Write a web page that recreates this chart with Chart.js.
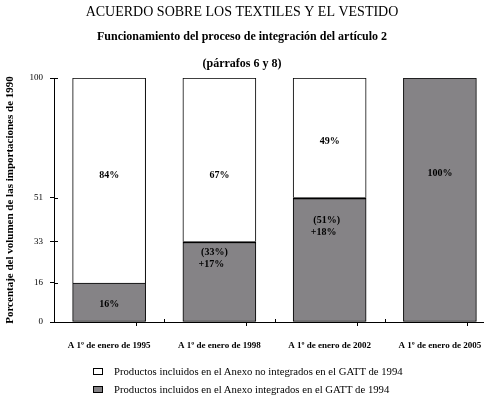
<!DOCTYPE html>
<html>
<head>
<meta charset="utf-8">
<script src="https://cdn.jsdelivr.net/npm/chart.js@4"></script>
<style>
  html, body { margin: 0; padding: 0; background: #fff; }
  #wrap { position: relative; width: 484px; height: 396px; }
  #legend { position: absolute; left: 93px; top: 362px; font: 10.7px "Liberation Serif", serif; color: #000; }
  #legend .row { height: 18px; display: flex; align-items: center; }
  #legend .box { width: 8px; height: 5px; border: 1px solid #000; margin-right: 11px; }
</style>
</head>
<body>
<div id="wrap">
  <canvas id="chart" width="484" height="396"></canvas>
  <div id="legend"></div>
</div>
<script>
// data
const categories = ['A 1º de enero de 1995', 'A 1º de enero de 1998', 'A 1º de enero de 2002', 'A 1º de enero de 2005'];
const integrated = [16, 33, 51, 100];
const notIntegrated = [84, 67, 49, 0];
const yTicks = [0, 16, 33, 51, 100];
const seriesNames = [
  'Productos incluidos en el Anexo no integrados en el GATT de 1994',
  'Productos incluidos en el Anexo integrados en el GATT de 1994'
];

// styles / label placement (in axis units)
const GRAY = '#858386';
const WHITE = '#ffffff';
const topBorder = [1, 2, 2, 1];
const notePos = [
  { white: 60, gray: 7 },
  { white: 60, gray: 26, dx: -5 },
  { white: 74, gray: 39, dx: -3 },
  { white: 60, gray: 61 }
];

Chart.defaults.font.family = "'Liberation Serif', 'Times New Roman', serif";
Chart.defaults.color = '#000';

const barNotes = {
  id: 'barNotes',
  afterDatasetsDraw(chart) {
    const { ctx, chartArea } = chart;
    const x = chart.scales.x, y = chart.scales.y;
    ctx.save();
    ctx.font = "bold 10px 'Liberation Serif', serif";
    ctx.fillStyle = '#000';
    ctx.textAlign = 'center';
    ctx.textBaseline = 'middle';
    categories.forEach((c, i) => {
      const cx = x.getPixelForValue(i);
      const p = notePos[i];
      if (notIntegrated[i] > 0) {
        ctx.fillText(notIntegrated[i] + '%', cx, y.getPixelForValue(p.white));
      }
      const lines = (i > 0 && notIntegrated[i] > 0)
        ? ['(' + integrated[i] + '%)', '+' + (integrated[i] - integrated[i - 1]) + '%']
        : [integrated[i] + '%'];
      const gy = y.getPixelForValue(p.gray);
      lines.forEach((t, k) => {
        ctx.fillText(t, cx + (p.dx || 0) - k * 3, gy + (k - (lines.length - 1) / 2) * 12);
      });
    });
    // tick marks crossing the axes
    ctx.strokeStyle = '#000';
    ctx.lineWidth = 1;
    y.ticks.forEach(t => {
      const py = Math.round(y.getPixelForValue(t.value)) + 0.5;
      ctx.beginPath();
      ctx.moveTo(chartArea.left, py);
      ctx.lineTo(chartArea.left + 4, py);
      ctx.stroke();
    });
    x.ticks.forEach(t => {
      if (Number.isInteger(t.value)) return;
      const px = Math.round(x.getPixelForValue(t.value)) + 0.5;
      ctx.beginPath();
      ctx.moveTo(px, chartArea.bottom);
      ctx.lineTo(px, chartArea.bottom - 3);
      ctx.stroke();
    });
    ctx.restore();
  }
};

const xTickValues = [];
categories.forEach((c, i) => {
  xTickValues.push(i);
  if (i < categories.length - 1) xTickValues.push(i + 0.5);
});

new Chart(document.getElementById('chart'), {
  type: 'bar',
  data: {
    datasets: [
      {
        label: seriesNames[1],
        data: integrated.map((v, i) => ({ x: i, y: v })),
        backgroundColor: GRAY,
        borderColor: '#000',
        borderWidth: topBorder.map(w => ({ top: w, left: 1, right: 1, bottom: 1 })),
        borderSkipped: false,
        barThickness: 73
      },
      {
        label: seriesNames[0],
        data: notIntegrated.map((v, i) => ({ x: i, y: v })),
        backgroundColor: WHITE,
        borderColor: '#000',
        borderWidth: { top: 1, left: 1, right: 1, bottom: 0 },
        borderSkipped: false,
        barThickness: 73
      }
    ]
  },
  options: {
    responsive: false,
    animation: false,
    layout: { padding: { left: 0, right: 0, top: 0, bottom: 0 } },
    plugins: {
      legend: { display: false },
      tooltip: { enabled: false },
      title: {
        display: true,
        text: 'ACUERDO SOBRE LOS TEXTILES Y EL VESTIDO',
        font: { size: 14, weight: 'normal' },
        padding: { top: 4, bottom: 2 }
      },
      subtitle: {
        display: true,
        text: ['Funcionamiento del proceso de integración del artículo 2', '(párrafos 6 y 8)'],
        font: { size: 12, weight: 'bold', lineHeight: 2.3 },
        color: '#000',
        padding: { top: 0, bottom: 0 }
      }
    },
    scales: {
      x: {
        type: 'linear',
        stacked: true,
        offset: false,
        min: -0.5,
        max: 3.4,
        afterBuildTicks: s => { s.ticks = xTickValues.map(v => ({ value: v })); },
        afterFit: s => { s.height = 74; s.paddingLeft = 0; s.paddingRight = 0; },
        ticks: {
          autoSkip: false,
          maxRotation: 0,
          minRotation: 0,
          padding: 14,
          font: { size: 9, weight: 'bold' },
          callback: v => Number.isInteger(v) ? categories[v] : ''
        },
        grid: {
          drawOnChartArea: false,
          tickLength: 4,
          tickColor: c => (c.tick && Number.isInteger(c.tick.value)) ? 'rgba(0,0,0,0)' : '#000'
        },
        border: { color: '#000', width: 1 }
      },
      y: {
        stacked: true,
        min: 0,
        max: 100,
        afterBuildTicks: s => { s.ticks = yTicks.map(v => ({ value: v })); },
        afterFit: s => { s.width = 54; },
        ticks: { autoSkip: false, padding: 7, font: { size: 9 } },
        grid: { drawOnChartArea: false, tickLength: 4, tickColor: '#000' },
        border: { color: '#000', width: 1 },
        title: {
          display: true,
          text: 'Porcentaje del volumen de las importaciones de 1990',
          font: { size: 11, weight: 'bold' },
          padding: { top: 4, bottom: 0 }
        }
      }
    }
  },
  plugins: [barNotes]
});

// legend
const legendEl = document.getElementById('legend');
[[seriesNames[0], WHITE], [seriesNames[1], GRAY]].forEach(([name, color]) => {
  const row = document.createElement('div');
  row.className = 'row';
  const box = document.createElement('span');
  box.className = 'box';
  box.style.background = color;
  const txt = document.createElement('span');
  txt.textContent = name;
  row.appendChild(box);
  row.appendChild(txt);
  legendEl.appendChild(row);
});
</script>
</body>
</html>
